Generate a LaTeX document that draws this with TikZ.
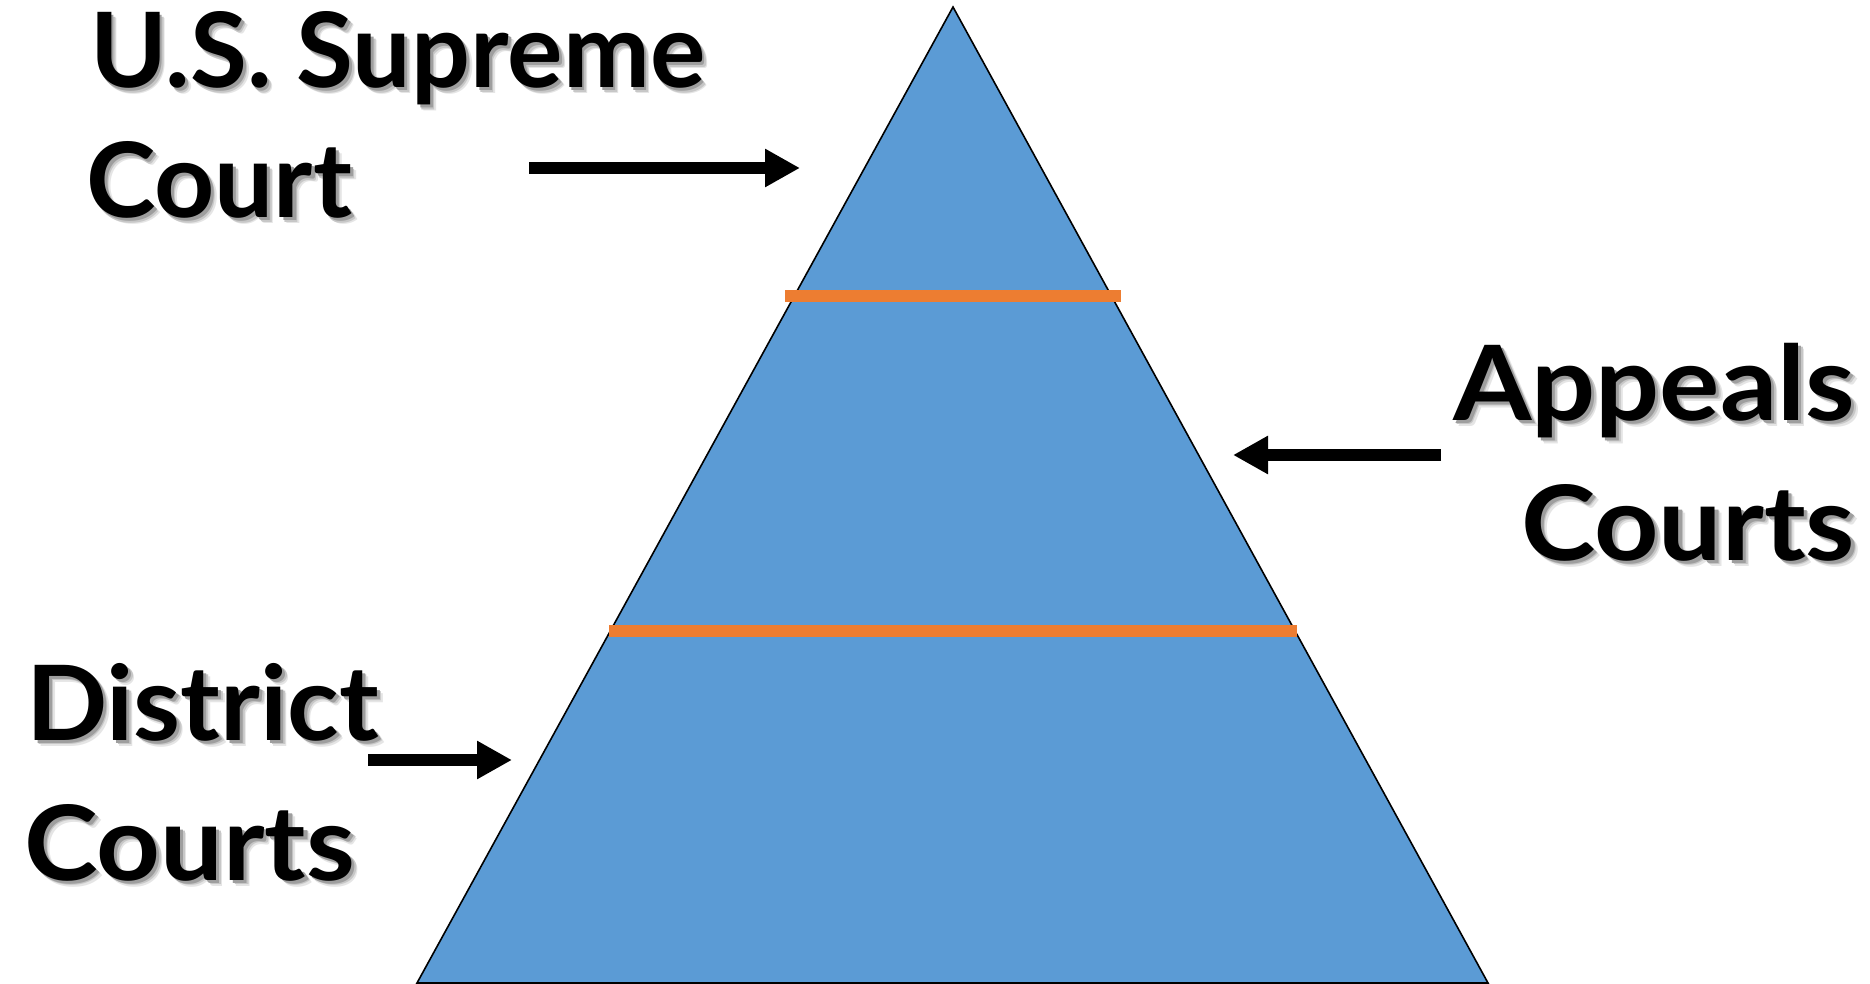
\documentclass[tikz,border=0pt]{standalone}
\usepackage{fontspec}
\usepackage{graphicx}
\setmainfont{Lato}
\usetikzlibrary{arrows.meta}
\definecolor{pyrblue}{HTML}{5B9BD5}
\definecolor{pyrorange}{HTML}{ED7D31}
\newcommand\shadowed[1]{%
  \rlap{\kern6pt\raisebox{-6pt}{\color{black!10}#1}}%
  \rlap{\kern4.5pt\raisebox{-4.5pt}{\color{black!22}#1}}%
  \rlap{\kern3pt\raisebox{-3pt}{\color{black!38}#1}}%
  #1}
\newcommand\fitw[2]{\resizebox{#1}{\height}{\shadowed{#2}}}
\begin{document}
\begin{tikzpicture}[x=1pt, y=-1pt,
  lbl/.style={inner sep=0pt, outer sep=0pt, text=black, font=\fontsize{104}{120}\selectfont\bfseries},
  pyramid/.style={draw=black, line width=1.6pt, fill=pyrblue, line join=miter},
  divider/.style={draw=pyrorange, line width=12pt},
  pointer/.style={draw=black, line width=12pt, -{Triangle[length=35pt, width=36pt]}}]
\useasboundingbox (0,0) rectangle (1870,984);
% pyramid
\coordinate (apex) at (953,7);
\coordinate (bl) at (417,983);
\coordinate (br) at (1488,983);
\path[pyramid] (apex) -- (bl) -- (br) -- cycle;
% dividers
\coordinate (d1l) at (785,296);
\coordinate (d1r) at (1121,296);
\coordinate (d2l) at (609,631);
\coordinate (d2r) at (1297,631);
\draw[divider] (d1l) -- (d1r);
\draw[divider] (d2l) -- (d2r);
% labels
\node[lbl, anchor=base west] (sup1) at (90,88) {\fitw{615pt}{U.S. Supreme}};
\node[lbl, anchor=base west] (sup2) at (86,218) {\fitw{266pt}{Court}};
\node[lbl, anchor=base east] (app1) at (1855,420) {\fitw{402pt}{Appeals}};
\node[lbl, anchor=base east] (app2) at (1855,560) {\fitw{334pt}{Courts}};
\node[lbl, anchor=base west] (dis1) at (26,740) {\fitw{353pt}{District}};
\node[lbl, anchor=base west] (dis2) at (24,880) {\fitw{331pt}{Courts}};
% arrows
\coordinate (a1s) at (529,168);
\coordinate (a1e) at (800,168);
\coordinate (a2s) at (1441,455);
\coordinate (a2e) at (1233,455);
\coordinate (a3s) at (368,760);
\coordinate (a3e) at (512,760);
\draw[pointer] (a1s) -- (a1e);
\draw[pointer] (a2s) -- (a2e);
\draw[pointer] (a3s) -- (a3e);
\end{tikzpicture}
\end{document}
